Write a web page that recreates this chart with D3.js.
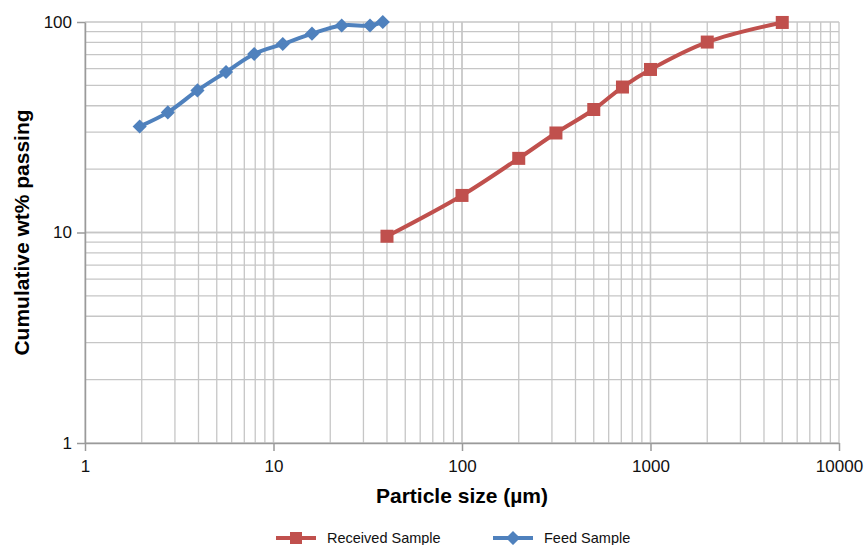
<!DOCTYPE html>
<html>
<head>
<meta charset="utf-8">
<script src="https://d3js.org/d3.v7.min.js"></script>
<style>
  body { margin: 0; background: #fff; }
  svg { font-family: "Liberation Sans", Arial, Helvetica, sans-serif; }
  .grid line { stroke: #c6c6c6; stroke-width: 1.3; }
  .axis path, .axis line { stroke: #9a9a9a; stroke-width: 1.5; }
  .axis text { font-size: 17px; fill: #111; }
</style>
</head>
<body>
<svg id="chart" width="865" height="545"></svg>
<script>
// data
var feedSize = [1.95, 2.75, 3.95, 5.6, 7.9, 11.2, 16, 23, 32.5, 38];
var feedPass = [31.9, 37.2, 47.3, 57.9, 70.5, 78.6, 88, 96.3, 96.3, 100];
var recvSize = [40, 100, 200, 315, 500, 710, 1000, 2000, 5000];
var recvPass = [9.6, 15, 22.5, 29.7, 38.4, 49.1, 59.5, 80.3, 99.5];
var xTicks = [1, 10, 100, 1000, 10000];
var yTicks = [1, 10, 100];

var svg = d3.select("#chart");
var plotL = 85, plotR = 839, plotT = 22, plotB = 443;

var x = d3.scaleLog().domain([1, 10000]).range([plotL, plotR]);
var y = d3.scaleLog().domain([1, 100]).range([plotB, plotT]);

// minor + major grid values
var xGrid = [], yGrid = [];
for (var d = 1; d < 10000; d *= 10) for (var k = 1; k <= 10; k++) xGrid.push(d * k);
for (var d = 1; d < 100; d *= 10) for (var k = 1; k <= 10; k++) yGrid.push(d * k);

var grid = svg.append("g").attr("class", "grid");
grid.selectAll(".gx").data(xGrid).enter().append("line")
    .attr("x1", function(v) { return x(v); }).attr("x2", function(v) { return x(v); })
    .attr("y1", plotT).attr("y2", plotB);
grid.selectAll(".gy").data(yGrid).enter().append("line")
    .attr("y1", function(v) { return y(v); }).attr("y2", function(v) { return y(v); })
    .attr("x1", plotL).attr("x2", plotR);

var xAxis = d3.axisBottom(x).tickValues(xTicks).tickFormat(d3.format("d"))
    .tickSizeInner(8).tickSizeOuter(0).tickPadding(9);
var yAxis = d3.axisLeft(y).tickValues(yTicks).tickFormat(d3.format("d"))
    .tickSizeInner(8).tickSizeOuter(0).tickPadding(5);

svg.append("g").attr("class", "axis")
    .attr("transform", "translate(0," + plotB + ")").call(xAxis);
svg.append("g").attr("class", "axis")
    .attr("transform", "translate(" + plotL + ",0)").call(yAxis);

var line = d3.line()
    .x(function(p) { return x(p[0]); })
    .y(function(p) { return y(p[1]); })
    .curve(d3.curveCatmullRom);

var recv = d3.zip(recvSize, recvPass);
var feed = d3.zip(feedSize, feedPass);

var red = "#c0504d", blue = "#4f81bd";

svg.append("path").attr("d", line(recv))
    .attr("fill", "none").attr("stroke", red).attr("stroke-width", 4);
svg.selectAll(".sq").data(recv).enter().append("rect")
    .attr("x", function(p) { return x(p[0]) - 6.5; })
    .attr("y", function(p) { return y(p[1]) - 6.5; })
    .attr("width", 13).attr("height", 13).attr("fill", red);

svg.append("path").attr("d", line(feed))
    .attr("fill", "none").attr("stroke", blue).attr("stroke-width", 4);
// diamond = square turned 45 degrees
function addDiamond(cx, cy, color) {
  svg.append("rect").attr("x", -5).attr("y", -5).attr("width", 10).attr("height", 10)
      .attr("fill", color)
      .attr("transform", "translate(" + cx + "," + cy + ") rotate(45)");
}
feed.forEach(function(p) { addDiamond(x(p[0]), y(p[1]), blue); });

// axis titles
svg.append("text").attr("x", (plotL + plotR) / 2).attr("y", 503)
    .attr("text-anchor", "middle").attr("font-size", 21).attr("font-weight", "bold")
    .text("Particle size (µm)");
svg.append("text").attr("transform", "translate(29," + (plotT + plotB) / 2 + ") rotate(-90)")
    .attr("text-anchor", "middle").attr("font-size", 21).attr("font-weight", "bold")
    .text("Cumulative wt% passing");

// legend
var legend = [
  { name: "Received Sample", color: red, x: 276, marker: "square" },
  { name: "Feed Sample", color: blue, x: 493, marker: "diamond" }
];
var ly = 538;
legend.forEach(function(l) {
  svg.append("line").attr("x1", l.x).attr("x2", l.x + 40).attr("y1", ly).attr("y2", ly)
      .attr("stroke", l.color).attr("stroke-width", 4);
  if (l.marker == "square") {
    svg.append("rect").attr("x", l.x + 14).attr("y", ly - 6).attr("width", 12).attr("height", 12)
        .attr("fill", l.color);
  } else {
    addDiamond(l.x + 20, ly, l.color);
  }
  svg.append("text").attr("x", l.x + 51).attr("y", ly + 5).attr("font-size", 14.5)
      .attr("fill", "#111").text(l.name);
});
</script>
</body>
</html>
